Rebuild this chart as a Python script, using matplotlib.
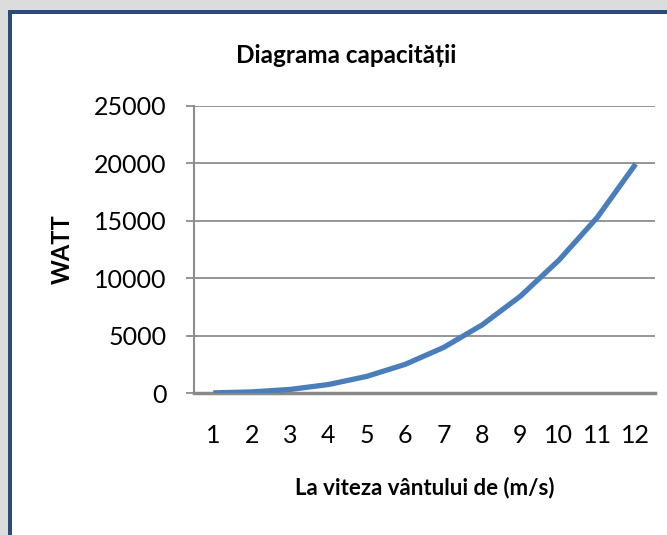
import matplotlib.pyplot as plt
from matplotlib.patches import Rectangle

plt.rcParams['font.family'] = ['Lato', 'DejaVu Sans']

# wind speed (m/s) and power (W)
speed = [1, 2, 3, 4, 5, 6, 7, 8, 9, 10, 11, 12]
watt = [12, 95, 310, 740, 1450, 2500, 3970, 5930, 8440, 11570, 15300, 19950]

fig = plt.figure(figsize=(6.67, 5.35), dpi=100)
fig.patch.set_facecolor('white')

# grey page strip + blue frame on top and left
fig.patches.append(Rectangle((0, 0.981), 1, 0.019, transform=fig.transFigure,
                             facecolor='#dcdcdc', edgecolor='none', zorder=0))
fig.patches.append(Rectangle((0, 0), 0.012, 1, transform=fig.transFigure,
                             facecolor='#dcdcdc', edgecolor='none', zorder=0))
fig.patches.append(Rectangle((0.012, 0.974), 0.988, 0.008, transform=fig.transFigure,
                             facecolor='#2b4a7a', edgecolor='none', zorder=1))
fig.patches.append(Rectangle((0.012, 0), 0.006, 0.982, transform=fig.transFigure,
                             facecolor='#2b4a7a', edgecolor='none', zorder=1))

ax = fig.add_axes([0.2909, 0.2654, 0.691, 0.5365])
ax.plot(speed, watt, color='#4a7ebb', linewidth=3.8, solid_capstyle='butt', zorder=3)

ax.set_xlim(0.5, 12.5)
ax.set_ylim(0, 25000)
ax.set_yticks(range(0, 25001, 5000))
ax.set_xticks(speed)
ax.grid(axis='y', color='#8c8c8c', linewidth=1.3)
ax.set_axisbelow(True)

for s in ['top', 'right']:
    ax.spines[s].set_visible(False)
ax.spines['left'].set_color('#8c8c8c')
ax.spines['left'].set_linewidth(1.5)
ax.spines['bottom'].set_color('#8a8a8a')
ax.spines['bottom'].set_linewidth(2.5)

ax.tick_params(axis='y', length=6, width=1.3, color='#8c8c8c', pad=14, labelsize=18)
ax.tick_params(axis='x', length=0, pad=22, labelsize=18)

fig.text(0.519, 0.897, 'Diagrama capacității', fontsize=17.5, fontweight='bold',
         ha='center', va='center')
ax.set_ylabel('WATT', fontsize=17, fontweight='bold', labelpad=14)
ax.set_xlabel('La viteza vântului de (m/s)', fontsize=16, fontweight='bold', labelpad=22)

plt.savefig('out.png', dpi=100)
